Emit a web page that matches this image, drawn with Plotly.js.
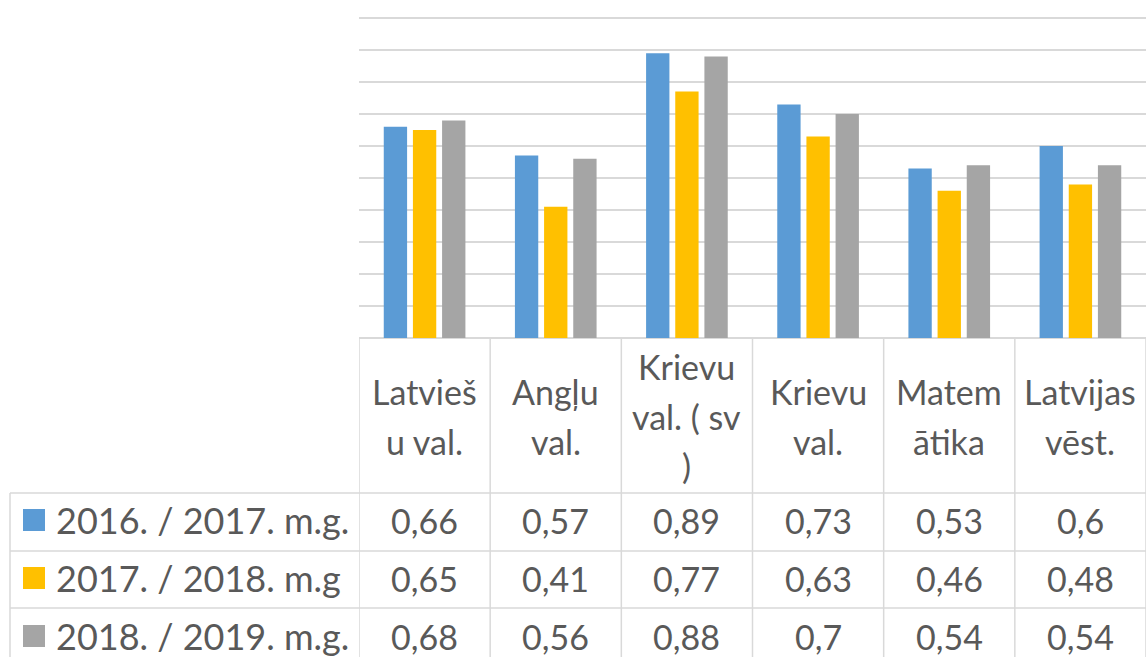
<!DOCTYPE html>
<html>
<head>
<meta charset="utf-8">
<script src="https://cdn.plot.ly/plotly-3.0.1.min.js"></script>
<style>html,body{margin:0;padding:0;background:#fff;}#chart{width:1146px;height:657px;}</style>
</head>
<body>
<div id="chart"></div>
<script>
const categories = ['Latviešu val.', 'Angļu val.', 'Krievu val. ( sv )', 'Krievu val.', 'Matemātika', 'Latvijas vēst.'];
const headerLines = [['Latvieš', 'u val.'], ['Angļu', 'val.'], ['Krievu', 'val. ( sv', ')'], ['Krievu', 'val.'], ['Matem', 'ātika'], ['Latvijas', 'vēst.']];
const seriesNames = ['2016. / 2017. m.g.', '2017. / 2018. m.g', '2018. / 2019. m.g.'];
const s2016 = [0.66, 0.57, 0.89, 0.73, 0.53, 0.6];
const s2017 = [0.65, 0.41, 0.77, 0.63, 0.46, 0.48];
const s2018 = [0.68, 0.56, 0.88, 0.7, 0.54, 0.54];
const colors = ['#5B9BD5', '#FFC000', '#A5A5A5'];

const seriesValues = [s2016, s2017, s2018];
const W = 1146, H = 657;
const L = 359, B = 338, PH = 328, T = B - PH, PW = W - L;
const unitPx = 320;
const py = p => (B - p) / PH;
const px = p => (p - L) / PW;
const txtColor = '#595959';
const lineColor = '#d9d9d9';
const FONT = 'Lato, "Open Sans", sans-serif';
const FS = 34;

const traces = seriesValues.map((vals, i) => ({
  type: 'bar', x: categories, y: vals, name: seriesNames[i],
  marker: {color: colors[i], line: {width: 0}}, hoverinfo: 'skip'
}));

const shapes = [];
const annotations = [];
for (let i = 0; i <= categories.length; i++) {
  shapes.push({type: 'line', xref: 'x', yref: 'paper', x0: i - 0.5, x1: i - 0.5, y0: py(339), y1: py(700),
    line: {color: lineColor, width: 1.5}});
}
const rowTops = [493, 551, 608];
rowTops.forEach(p => shapes.push({type: 'line', xref: 'paper', yref: 'paper', x0: px(10), x1: 1, y0: py(p), y1: py(p),
  line: {color: lineColor, width: 1.5}}));
shapes.push({type: 'line', xref: 'paper', yref: 'paper', x0: px(10), x1: px(10), y0: py(493), y1: py(700),
  line: {color: lineColor, width: 1.5}});

const headerCenter = 416, lineStep = 50;
headerLines.forEach((lines, ci) => {
  const n = lines.length;
  lines.forEach((t, li) => {
    annotations.push({xref: 'x', yref: 'paper', x: categories[ci], y: py(headerCenter + (li - (n - 1) / 2) * lineStep),
      text: t, showarrow: false, xanchor: 'center', yanchor: 'middle',
      font: {family: FONT, size: FS, color: txtColor}});
  });
});

const rowCenters = [520, 578, 636];
seriesValues.forEach((vals, si) => {
  const yc = py(rowCenters[si]);
  shapes.push({type: 'rect', xref: 'paper', yref: 'paper', x0: px(23), x1: px(45), y0: py(rowCenters[si] + 11), y1: py(rowCenters[si] - 11),
    fillcolor: colors[si], line: {width: 0}});
  annotations.push({xref: 'paper', yref: 'paper', x: px(54), y: yc, text: seriesNames[si], showarrow: false,
    xanchor: 'left', yanchor: 'middle', font: {family: FONT, size: 36, color: txtColor}});
  vals.forEach((v, ci) => {
    annotations.push({xref: 'x', yref: 'paper', x: categories[ci], y: yc, text: String(v).replace('.', ','),
      showarrow: false, xanchor: 'center', yanchor: 'middle', font: {family: FONT, size: FS, color: txtColor}});
  });
});

const layout = {
  width: W, height: H,
  margin: {l: L, r: 0, t: T, b: H - B, pad: 0},
  paper_bgcolor: '#fff', plot_bgcolor: '#fff',
  barmode: 'group', bargap: 0.333, bargroupgap: 0.2,
  showlegend: false,
  xaxis: {type: 'category', range: [-0.5, categories.length - 0.5], showticklabels: false, ticks: '',
    showgrid: false, zeroline: false, showline: false, fixedrange: true},
  yaxis: {range: [0, PH / unitPx], tick0: 0, dtick: 0.1, showticklabels: false, ticks: '', showgrid: true, gridcolor: lineColor,
    gridwidth: 1.5, zeroline: true, zerolinecolor: lineColor, zerolinewidth: 1.5, showline: false, fixedrange: true},
  shapes: shapes, annotations: annotations
};
Plotly.newPlot('chart', traces, layout, {displayModeBar: false, staticPlot: true});
</script>
</body>
</html>
